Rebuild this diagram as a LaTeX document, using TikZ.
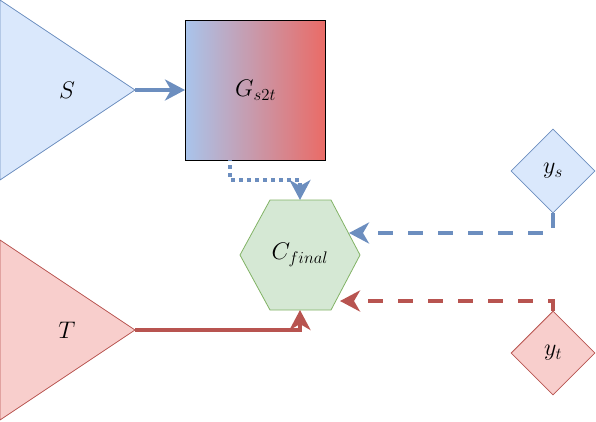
\RequirePackage{fix-cm}
\documentclass[tikz,border=0pt]{standalone}
\usepackage{amsmath}
\usepackage{tikz}
\usetikzlibrary{shapes.geometric, arrows.meta}
\definecolor{bluefill}{HTML}{DAE8FC}
\definecolor{blueline}{HTML}{6C8EBF}
\definecolor{redfill}{HTML}{F8CECC}
\definecolor{redline}{HTML}{B85450}
\definecolor{greenfill}{HTML}{D5E8D4}
\definecolor{greenline}{HTML}{82B366}
\definecolor{gradleft}{HTML}{A9C4EB}
\definecolor{gradright}{HTML}{EA6B66}
\tikzstyle{arrow} = [line width=4pt,-{Stealth[length=20pt,width=21pt,inset=6pt]}]
\tikzstyle{txt} = [font=\fontsize{24}{29}\selectfont]
\tikzstyle{gen} = [draw=black, line width=1pt, left color=gradleft, right color=gradright, minimum width=140pt, minimum height=140pt, inner sep=0pt, txt]
\tikzstyle{srclabel} = [diamond, draw=blueline, fill=bluefill, line width=0.8pt, minimum width=84pt, minimum height=84pt, inner sep=0pt, txt]
\tikzstyle{tgtlabel} = [diamond, draw=redline, fill=redfill, line width=0.8pt, minimum width=84pt, minimum height=84pt, inner sep=0pt, txt]

\begin{document}
\begin{tikzpicture}[x=1pt,y=-1pt]
\useasboundingbox (0,0) rectangle (596,421);

\draw[blueline, fill=bluefill, line width=0.8pt] (0,0) -- (135,90) -- (0,180) -- cycle;
\node[txt] (S) at (67,90) {$S$};
\coordinate (Sout) at (135,90);

\draw[redline, fill=redfill, line width=0.8pt] (0,240) -- (135,330) -- (0,420) -- cycle;
\node[txt] (T) at (67,330) {$T$};
\coordinate (Tout) at (135,330);

\node[gen] (G) at (255.5,90) {$G_{s2t}$};
\coordinate (Gout) at (230,160);

\draw[greenline, fill=greenfill, line width=0.8pt] (240,255) -- (270,200) -- (331,200) -- (360,255) -- (331,310) -- (270,310) -- cycle;
\node[txt] (C) at (300,255) {$C_{final}$};
\coordinate (Cin1) at (300,200);
\coordinate (Cin2) at (349,233);
\coordinate (Cin3) at (340,301);
\coordinate (Cin4) at (300,310);

\node[srclabel] (ys) at (553,171) {$y_s$};
\node[tgtlabel] (yt) at (553,353) {$y_t$};

\draw[arrow, blueline] (Sout) -- (G);
\draw[arrow, blueline, dash pattern=on 4pt off 4pt, dash phase=3pt] (Gout) -- ++(0,20) -| (Cin1);
\draw[arrow, blueline, dash pattern=on 15pt off 15pt] (ys.south) |- (Cin2);
\draw[arrow, redline, dash pattern=on 15pt off 15pt] (yt.north) |- (Cin3);
\draw[arrow, redline] (Tout) -| (Cin4);
\end{tikzpicture}
\end{document}
